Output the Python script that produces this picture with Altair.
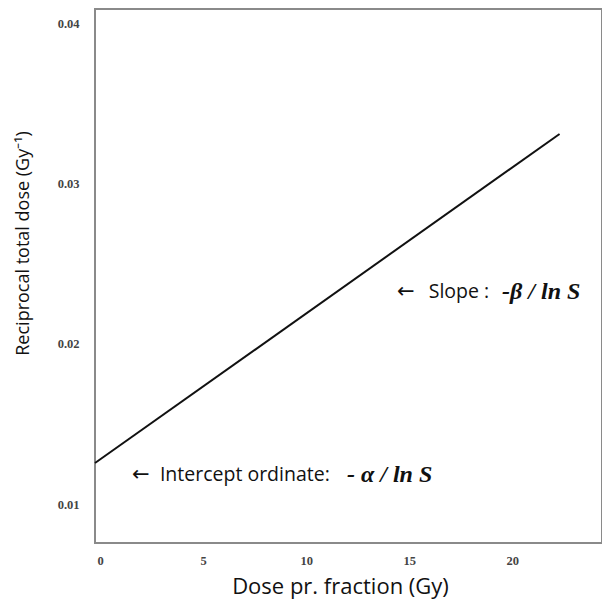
import altair as alt
import pandas as pd

# Line data
dose = [-0.25, 22.3]
recip = [0.01256, 0.0331]

# Annotations
ann_x = [1.55, 14.41]
ann_y = [0.0118, 0.02323]
arrow_text = ["←", "←"]
ann_x_txt = [2.9, 15.95]
ann_text = ["Intercept ordinate:", "Slope :"]
math_x = [11.98, 19.51]
math_text = ["- α / ln S", "-β / ln S"]

x_ticks = [0, 5, 10, 15, 20]
y_ticks = [0.01, 0.02, 0.03, 0.04]

line_df = pd.DataFrame({"dose": dose, "recip": recip})
arrow_df = pd.DataFrame({"x": ann_x, "y": ann_y, "t": arrow_text})
ann_df = pd.DataFrame({"x": ann_x_txt, "y": ann_y, "t": ann_text})
math_df = pd.DataFrame({"x": math_x, "y": ann_y, "t": math_text})

xs = alt.Scale(domain=[-0.25, 24.36], nice=False, zero=False)
ys = alt.Scale(domain=[0.00757, 0.0409], nice=False, zero=False)

xaxis = alt.Axis(values=x_ticks, title="Dose pr. fraction (Gy)", grid=False, ticks=False,
                 domain=False, labelFont="Liberation Serif", labelFontSize=12.5,
                 labelColor="#444", labelPadding=11, titleFont="Open Sans",
                 titleFontSize=22, titleFontWeight="normal", titleColor="#111",
                 titleX=245, titleY=33, labelFontWeight="bold")
yaxis = alt.Axis(values=y_ticks, title="Reciprocal total dose (Gy⁻¹)", grid=False, ticks=False,
                 domain=False, labelFont="Liberation Serif", labelFontSize=12.5,
                 labelColor="#444", labelPadding=16, titleFont="Open Sans",
                 titleFontSize=18, titleFontWeight="normal", titleColor="#111",
                 titleX=-63, titleY=234, labelFontWeight="bold", format=".2f")

line = alt.Chart(line_df).mark_line(color="#111", strokeWidth=2).encode(
    x=alt.X("dose:Q", scale=xs, axis=xaxis),
    y=alt.Y("recip:Q", scale=ys, axis=yaxis),
)

arrows = alt.Chart(arrow_df).mark_text(align="left", baseline="middle", font="DejaVu Sans",
                                       fontSize=21, color="#111").encode(
    x=alt.X("x:Q", scale=xs), y=alt.Y("y:Q", scale=ys), text="t:N")

ann = alt.Chart(ann_df).mark_text(align="left", baseline="middle", font="Open Sans",
                                  fontSize=19.5, color="#111").encode(
    x=alt.X("x:Q", scale=xs), y=alt.Y("y:Q", scale=ys), text="t:N")

math = alt.Chart(math_df).mark_text(align="left", baseline="middle", font="Liberation Serif",
                                    fontSize=24, fontWeight="bold", fontStyle="italic",
                                    color="#111").encode(
    x=alt.X("x:Q", scale=xs), y=alt.Y("y:Q", scale=ys), text="t:N")

chart = alt.layer(line, arrows, ann, math).properties(
    width=507, height=534,
    background="white",
    autosize=alt.AutoSizeParams(type="none"),
    padding={"left": 95, "top": 9, "right": 0, "bottom": 61},
).configure_view(stroke="#8a8a8a", strokeWidth=2)

chart.save("out.html", embed_options={"renderer": "svg", "actions": False})
